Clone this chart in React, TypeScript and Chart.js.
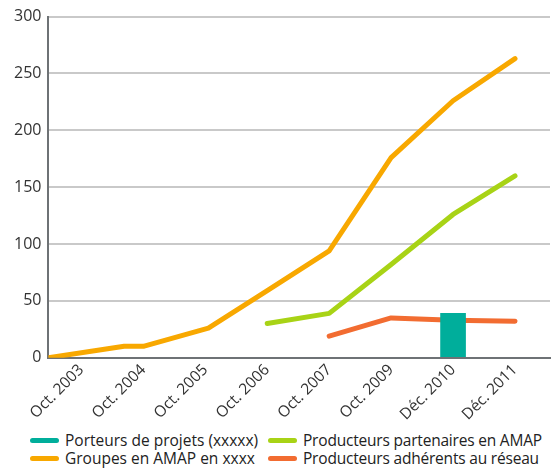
import React, { useEffect, useRef } from "react";
import { Chart, registerables } from "chart.js";

Chart.register(...registerables);

const xLabels = ["Oct. 2003", "Oct. 2004", "Oct. 2005", "Oct. 2006", "Oct. 2007", "Oct. 2009", "Déc. 2010", "Déc. 2011"];
const yTicks = [0, 50, 100, 150, 200, 250, 300];

const porteursX = [6];
const porteursY = [39];

const partenairesX = [3, 4, 5, 6, 7];
const partenairesY = [30, 39, 82, 126, 160];

const groupesX = [-0.53, 0.69, 1, 2.05, 3, 4, 5, 6, 7];
const groupesY = [0, 10, 10, 26, 59, 94, 176, 226, 263];

const adherentsX = [4, 5, 6, 7];
const adherentsY = [19, 35, 33, 32];

const COLORS = {
  porteurs: "#00ae9b",
  partenaires: "#a8d316",
  groupes: "#f8a800",
  adherents: "#f26c31",
};

const legendItems = [
  { label: "Porteurs de projets (xxxxx)", color: COLORS.porteurs, col: 0 },
  { label: "Producteurs partenaires en AMAP", color: COLORS.partenaires, col: 1 },
  { label: "Groupes en AMAP en xxxx", color: COLORS.groupes, col: 0 },
  { label: "Producteurs adhérents au réseau", color: COLORS.adherents, col: 1 },
];

const pts = (xs: number[], ys: number[]) => xs.map((x, i) => ({ x, y: ys[i] }));

export default function App() {
  const ref = useRef<HTMLCanvasElement | null>(null);

  useEffect(() => {
    if (!ref.current) return;
    const lineBase = {
      type: "line" as const,
      borderWidth: 5,
      pointRadius: 0,
      borderCapStyle: "round" as const,
      borderJoinStyle: "round" as const,
      tension: 0,
      fill: false,
    };
    const chart = new Chart(ref.current, {
      type: "line",
      data: {
        datasets: [
          {
            type: "bar",
            label: legendItems[0].label,
            data: pts(porteursX, porteursY),
            backgroundColor: COLORS.porteurs,
            borderWidth: 0,
            barThickness: 25,
          } as any,
          { ...lineBase, label: legendItems[1].label, data: pts(partenairesX, partenairesY), borderColor: COLORS.partenaires, backgroundColor: COLORS.partenaires },
          { ...lineBase, label: legendItems[2].label, data: pts(groupesX, groupesY), borderColor: COLORS.groupes, backgroundColor: COLORS.groupes },
          { ...lineBase, label: legendItems[3].label, data: pts(adherentsX, adherentsY), borderColor: COLORS.adherents, backgroundColor: COLORS.adherents },
        ],
      },
      options: {
        animation: false,
        responsive: false,
        maintainAspectRatio: false,
        layout: { padding: { top: 9, right: 2, left: 7, bottom: 0 } },
        plugins: { legend: { display: false }, tooltip: { enabled: false } },
        scales: {
          x: {
            type: "linear",
            offset: false,
            min: -0.532,
            max: 7.565,
            afterBuildTicks: (axis: any) => {
              axis.ticks = xLabels.map((_, i) => ({ value: i }));
            },
            grid: { display: false, drawTicks: false, offset: false },
            border: { display: true, color: "#6e7275", width: 2 },
            ticks: {
              autoSkip: false,
              maxRotation: 45,
              minRotation: 45,
              padding: 3,
              color: "#333333",
              font: { family: "'Open Sans'", size: 15.5 },
              callback: (v: any) => xLabels[Math.round(Number(v))] ?? "",
            },
          },
          y: {
            type: "linear",
            min: 0,
            max: 300,
            afterBuildTicks: (axis: any) => {
              axis.ticks = yTicks.map((v) => ({ value: v }));
            },
            grid: { color: "#c9c9c9", lineWidth: 2, drawTicks: false },
            border: { display: true, color: "#6e7275", width: 2 },
            ticks: {
              padding: 7,
              color: "#333333",
              font: { family: "'Open Sans'", size: 16 },
            },
          },
        },
      },
    });
    return () => chart.destroy();
  }, []);

  return (
    <div style={{ position: "absolute", left: 0, top: 0, width: 552, height: 468, background: "#fff", fontFamily: "'Open Sans', sans-serif" }}>
      <canvas ref={ref} width={552} height={427} style={{ display: "block", width: 552, height: 427 }} />
      <div
        style={{
          position: "absolute",
          left: 30,
          top: 431,
          display: "grid",
          gridTemplateColumns: "238px auto",
          rowGap: 0,
          fontSize: 15.5,
          color: "#222",
          lineHeight: "18px",
        }}
      >
        {legendItems.map((it) => (
          <div key={it.label} style={{ display: "flex", alignItems: "center", whiteSpace: "nowrap" }}>
            <span style={{ display: "inline-block", width: 29, height: 5, borderRadius: 3, background: it.color, marginRight: 6, flex: "none" }} />
            <span style={{ letterSpacing: it.col === 0 ? "0px" : "-0.2px" }}>{it.label}</span>
          </div>
        ))}
      </div>
    </div>
  );
}
